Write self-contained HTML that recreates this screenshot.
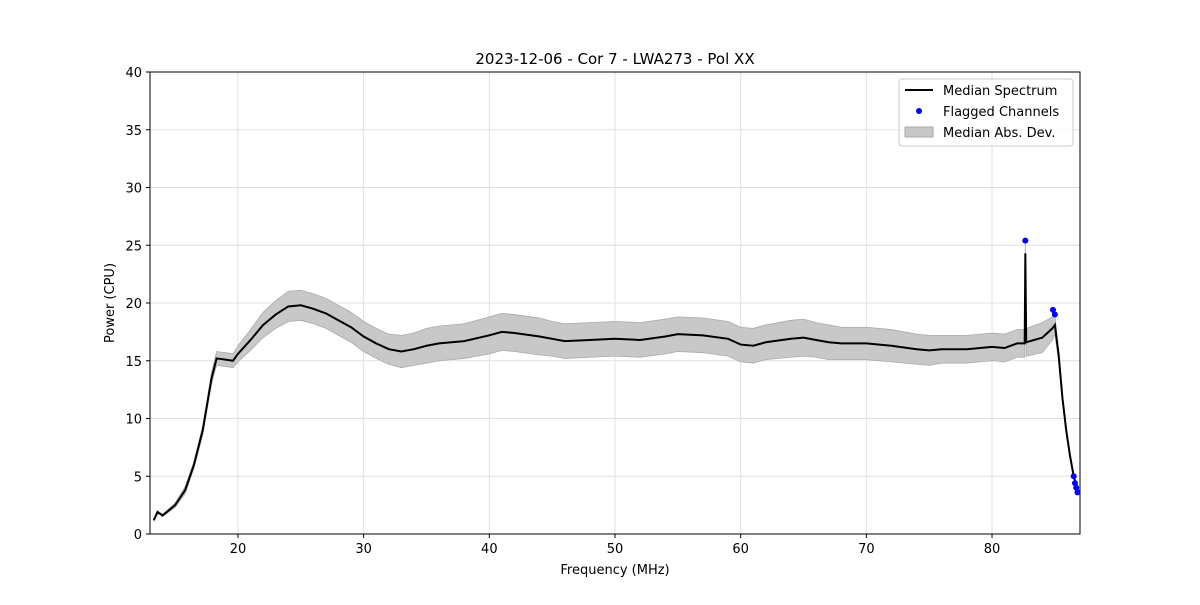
<!DOCTYPE html>
<html><head><meta charset="utf-8"><style>
body{margin:0;background:#fff;font-family:"Liberation Sans","DejaVu Sans",sans-serif}
svg text{font-family:"DejaVu Sans","Liberation Sans",sans-serif}
</style></head><body>
<svg id="chart" width="1200" height="600">
<rect width="1200" height="600" fill="#fff"/>
<g id="grid"></g>
<g id="series"></g>
<g id="axes"></g>
<text x="615" y="64" text-anchor="middle" font-size="15">2023-12-06 - Cor 7 - LWA273 - Pol XX</text>
<text x="615" y="574" text-anchor="middle" font-size="13">Frequency (MHz)</text>
<text transform="translate(114,303) rotate(-90)" text-anchor="middle" font-size="13">Power (CPU)</text>
<g>
<rect x="899" y="79" width="174" height="67" rx="3" fill="#fff" fill-opacity="0.8" stroke="#ccc"/>
<g><line x1="905" y1="90" x2="933" y2="90" stroke="#000" stroke-width="2"/><text x="943" y="95" font-size="13">Median Spectrum</text></g>
<g><circle cx="919" cy="111" r="3" fill="#0000ff"/><text x="943" y="116" font-size="13">Flagged Channels</text></g>
<g><rect x="905" y="127" width="28" height="10" fill="#c8c8c8" stroke="#aaa"/><text x="943" y="137" font-size="13">Median Abs. Dev.</text></g>
</g>
</svg>
<script>
const freqs=[13.3,13.6,14,15,15.8,16.5,17.2,17.9,18.3,19,19.6,20,21,22,23,24,25,26,27,28,29,30,31,32,33,34,35,36,38,40,41,42,44,45,46,48,50,52,54,55,57,59,60,61,62,64,65,66,67,68,70,72,74,75,76,78,80,81,82,82.6,82.65,82.72,84,84.8,85,85.3,85.6,85.9,86.2,86.5,86.8];
const medians=[1.2,1.9,1.6,2.5,3.8,6,9,13.5,15.2,15.1,15.0,15.6,16.8,18.1,19.0,19.7,19.8,19.5,19.1,18.5,17.9,17.1,16.5,16.0,15.8,16.0,16.3,16.5,16.7,17.2,17.5,17.4,17.1,16.9,16.7,16.8,16.9,16.8,17.1,17.3,17.2,16.9,16.4,16.3,16.6,16.9,17.0,16.8,16.6,16.5,16.5,16.3,16.0,15.9,16.0,16.0,16.2,16.1,16.5,16.5,24.3,16.6,17.0,17.8,18.1,15.5,11.8,9.0,6.8,5.0,3.9];
const mads=[0.1,0.1,0.1,0.2,0.3,0.3,0.4,0.5,0.6,0.6,0.6,0.7,0.9,1.1,1.2,1.3,1.3,1.3,1.3,1.3,1.3,1.3,1.3,1.3,1.4,1.4,1.5,1.5,1.5,1.6,1.6,1.6,1.6,1.5,1.5,1.5,1.5,1.5,1.5,1.5,1.5,1.5,1.5,1.5,1.5,1.6,1.6,1.5,1.5,1.4,1.4,1.4,1.3,1.3,1.2,1.2,1.2,1.2,1.2,1.2,1,1.2,1.3,1.0,0.8,0.5,0.4,0.3,0.2,0.2,0.1];
const flagFreqs=[82.65,84.85,85.0,86.5,86.6,86.7,86.8];
const flagVals=[25.4,19.4,19.0,5.0,4.4,4.0,3.6];
const xTicks=[20,30,40,50,60,70,80];
const yTicks=[0,5,10,15,20,25,30,35,40];
const X0=150,X1=1080,Y0=534,Y1=72,XMIN=13,XMAX=87,YMIN=0,YMAX=40;
const sx=v=>X0+(v-XMIN)/(XMAX-XMIN)*(X1-X0);
const sy=v=>Y0-(v-YMIN)/(YMAX-YMIN)*(Y0-Y1);
const NS='http://www.w3.org/2000/svg';
function mk(tag,attrs,parent){const e=document.createElementNS(NS,tag);for(const k in attrs)e.setAttribute(k,attrs[k]);parent.appendChild(e);return e;}
const grid=document.getElementById('grid'),series=document.getElementById('series'),axes=document.getElementById('axes');
xTicks.forEach(t=>{
 const g=mk('line',{x1:sx(t),x2:sx(t),y1:Y1,y2:Y0,stroke:'#e0e0e0'},grid);
 
 
 mk('line',{x1:sx(t),x2:sx(t),y1:Y0,y2:Y0+4,stroke:'#000'},axes);
 const tx=mk('text',{x:sx(t),y:Y0+19,'text-anchor':'middle','font-size':13},axes);tx.textContent=t;
 
 
});
yTicks.forEach(t=>{
 const g=mk('line',{x1:X0,x2:X1,y1:sy(t),y2:sy(t),stroke:'#e0e0e0'},grid);
 
 
 mk('line',{x1:X0-4,x2:X0,y1:sy(t),y2:sy(t),stroke:'#000'},axes);
 const tx=mk('text',{x:X0-8,y:sy(t)+5,'text-anchor':'end','font-size':13},axes);tx.textContent=t;
 
 
});
const frame=mk('rect',{x:X0,y:Y1,width:X1-X0,height:Y0-Y1,fill:'none',stroke:'#000'},axes);


let up=freqs.map((f,i)=>sx(f)+','+sy(medians[i]+mads[i]));
let lo=freqs.map((f,i)=>sx(f)+','+sy(medians[i]-mads[i])).reverse();
const band=mk('polygon',{points:up.concat(lo).join(' '),fill:'#c8c8c8',stroke:'#aaa','stroke-width':0.8},series);


const line=mk('polyline',{points:freqs.map((f,i)=>sx(f)+','+sy(medians[i])).join(' '),fill:'none',stroke:'#000','stroke-width':2},series);


flagFreqs.forEach((f,i)=>{
 const c=mk('circle',{cx:sx(f),cy:sy(flagVals[i]),r:3,fill:'#0000ff'},series);
 
 
});
</script>
</body></html>
